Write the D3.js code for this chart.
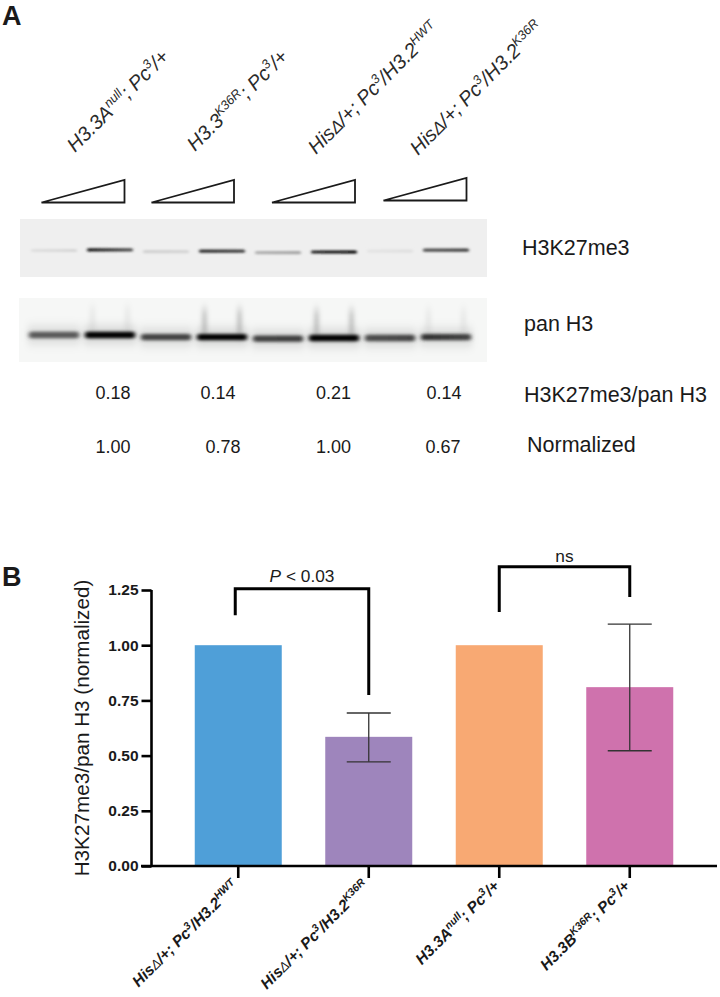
<!DOCTYPE html>
<html><head><meta charset="utf-8">
<script src="https://cdnjs.cloudflare.com/ajax/libs/d3/7.8.5/d3.min.js"></script>
<style>html,body{margin:0;padding:0;background:#fff}svg{display:block}text{font-family:"Liberation Sans",Arial,sans-serif;fill:#1a1a1a}</style>
</head><body><div id="chart"></div>
<script>
// Panel B
const categories = ["HisWT","HisK36R","H33Anull","H33BK36R"];
const values = [1.0, 0.585, 1.0, 0.81];
const errLow = [null, 0.472, null, 0.522];
const errHigh = [null, 0.693, null, 1.095];
const barColors = ["#4f9fd8","#9e85bc","#f8a973","#cf72ad"];
const yTicks = [0, 0.25, 0.5, 0.75, 1.0, 1.25];
const yTitle = "H3K27me3/pan H3 (normalized)";
const bracketPairs = [["HisWT","HisK36R"],["H33Anull","H33BK36R"]];
const bracketTop = [1.256, 1.355];
const bracketLeft = [1.136, 1.15];
const bracketRight = [0.774, 1.218];
const bracketLabels = ["P < 0.03","ns"];
const xLabels = [
 [["His","n"],["Δ","d"],["/+; Pc","n"],["3","s"],["/H3.2","n"],["HWT","s"]],
 [["His","n"],["Δ","d"],["/+; Pc","n"],["3","s"],["/H3.2","n"],["K36R","s"]],
 [["H3.3A","n"],["null","s"],["; Pc","n"],["3","s"],["/+","n"]],
 [["H3.3B","n"],["K36R","s"],["; Pc","n"],["3","s"],["/+","n"]]
];
// Panel A
const topLabels = [
 [["H3.3A","n"],["null","s"],["; Pc","n"],["3","s"],["/+","n"]],
 [["H3.3","n"],["K36R","s"],["; Pc","n"],["3","s"],["/+","n"]],
 [["His","n"],["Δ","d"],["/+; Pc","n"],["3","s"],["/H3.2","n"],["HWT","s"]],
 [["His","n"],["Δ","d"],["/+; Pc","n"],["3","s"],["/H3.2","n"],["K36R","s"]]
];
const ratios = ["0.18","0.14","0.21","0.14"];
const normalized = ["1.00","0.78","1.00","0.67"];
const rowLabels = ["H3K27me3","pan H3","H3K27me3/pan H3","Normalized"];
const lanes = [0,1,2,3,4,5,6,7];
// Band densities at left and right end of each lane
const k27Left  = [0.06,0.90,0.12,0.80,0.25,0.85,0.04,0.65];
const k27Right = [0.10,0.65,0.10,0.72,0.30,1.00,0.06,0.72];
const k27Migration = [0.5,0.3,0.9,0.7,1.2,1.0,0.7,0.4];
const panLeft  = [0.62,1.0,0.72,1.0,0.72,1.0,0.68,0.8];
const panRight = [0.62,1.0,0.72,1.0,0.75,1.0,0.72,0.72];
const panMigration = [0.0,0.0,0.7,0.7,1.2,1.0,1.0,0.7];
const panSmear = [0.0,0.15,0.0,0.5,0.0,0.5,0.0,0.15];

const W=720,H=997;
const svg=d3.select("#chart").append("svg").attr("width",W).attr("height",H);
const defs=svg.append("defs");
function blur(id,sd){defs.append("filter").attr("id",id).attr("filterUnits","userSpaceOnUse").attr("x",0).attr("y",200).attr("width",520).attr("height",180).append("feGaussianBlur").attr("stdDeviation",sd);}
blur("b1","1.8 1.1");blur("b2","2 1.7");blur("b3","3 6");blur("b4","2 5");

function rich(sel,runs,size,supScale){
  const t=sel.append("text").attr("font-size",size);
  let prev=false;
  runs.forEach(r=>{
    const isS=r[1]==="s";
    const s=t.append("tspan").text(r[0]);
    if(isS) s.attr("font-size",size*supScale).attr("dy",-size*0.38);
    else if(prev) s.attr("dy",size*0.38);
    if(r[1]==="d") s.attr("font-weight","normal").attr("font-size",size*0.85);
    prev=isS;
  });
  return t;
}

// ---------- Panel letters
svg.append("text").attr("x",2).attr("y",25).attr("font-size",27).attr("font-weight","bold").text("A");
svg.append("text").attr("x",2).attr("y",586).attr("font-size",27).attr("font-weight","bold").text("B");

// ---------- Panel A
const laneX=d3.scalePoint().domain(lanes).range([54,446]);
const topAnchor=[75,195,316,418], topY=[153,152,155,156];
topLabels.forEach((l,i)=>{
  const g=svg.append("g").attr("transform",`translate(${topAnchor[i]},${topY[i]}) rotate(-45)`);
  rich(g,l,20,0.64).attr("font-style","italic").style("fill","#2a2a2a");
});
const wedgeL=[41.5,151.5,272,383.5], wedgeR=[124.5,234,355,466.5], wedgeBase=[202.5,202.5,202.5,200.5], wedgeTop=[180,180,180,178];
wedgeL.forEach((x,i)=>{
  const p=d3.path();p.moveTo(x,wedgeBase[i]);p.lineTo(wedgeR[i],wedgeBase[i]);p.lineTo(wedgeR[i],wedgeTop[i]);p.closePath();
  svg.append("path").attr("d",p.toString()).attr("fill","#fff").attr("stroke","#1a1a1a").attr("stroke-width",1.8);
});
// blots
svg.append("rect").attr("x",20).attr("y",219).attr("width",467).attr("height",58).attr("fill","#efefef");
svg.append("rect").attr("x",19).attr("y",298).attr("width",468).attr("height",64).attr("fill","#f6f7f6");
const k27Y=d3.scaleLinear().domain([0,1]).range([249,252]);
const panY=d3.scaleLinear().domain([0,1]).range([335,338]);
const tone=d3.scaleLinear().domain([0,1]).range(["#ededed","#000000"]);
function laneGradient(id,l,r){
  const g=defs.append("linearGradient").attr("id",id);
  g.append("stop").attr("offset","0%").attr("stop-color",tone(l));
  g.append("stop").attr("offset","100%").attr("stop-color",tone(r));
}
lanes.forEach(i=>{laneGradient("k"+i,k27Left[i],k27Right[i]);laneGradient("p"+i,panLeft[i],panRight[i]);});
// haze and smear, pan H3
const haze=svg.append("g").attr("filter","url(#b3)");
haze.selectAll("rect").data(lanes).join("rect")
  .attr("x",d=>laneX(d)-26).attr("width",52).attr("y",d=>panY(panMigration[d])-7).attr("height",14)
  .attr("fill","#000").attr("opacity",d=>0.08+0.10*panRight[d]);
const smear=svg.append("g").attr("filter","url(#b4)");
lanes.filter(i=>panSmear[i]>0).forEach(i=>{
  [-20,15].forEach(dx=>{
    smear.append("rect").attr("x",laneX(i)+dx).attr("width",5).attr("y",panY(panMigration[i])-28).attr("height",26)
      .attr("fill","#000").attr("opacity",panSmear[i]*0.4);
  });
});
const blot1=svg.append("g").attr("filter","url(#b1)");
blot1.selectAll("rect").data(lanes).join("rect")
  .attr("x",d=>laneX(d)-23).attr("width",46).attr("y",d=>k27Y(k27Migration[d])-1.6).attr("height",3.2).attr("rx",1.5)
  .attr("fill",d=>`url(#k${d})`);
const blot2=svg.append("g").attr("filter","url(#b2)");
blot2.selectAll("rect").data(lanes).join("rect")
  .attr("x",d=>laneX(d)-25).attr("width",50).attr("y",d=>panY(panMigration[d])-3.2).attr("height",6.4).attr("rx",2.5)
  .attr("fill",d=>`url(#p${d})`);
const valX1=[113,218,333.5,444], valX2=[113,223,333.5,443];
ratios.forEach((v,i)=>svg.append("text").attr("x",valX1[i]).attr("y",399).attr("text-anchor","middle").attr("font-size",18).text(v));
normalized.forEach((v,i)=>svg.append("text").attr("x",valX2[i]).attr("y",453).attr("text-anchor","middle").attr("font-size",18).text(v));
const rowX=[522,524,524,527], rowY=[254.5,331,401.5,451.5];
rowLabels.forEach((d,i)=>svg.append("text").attr("x",rowX[i]).attr("y",rowY[i]).attr("font-size",21.5).text(d));

// ---------- Panel B
const x=d3.scaleBand().domain(categories).range([173,695]).paddingInner(1/3).paddingOuter(1/6);
const y=d3.scaleLinear().domain([0,1.25]).range([866,590]);
const cx=c=>x(c)+x.bandwidth()/2;
svg.append("g").selectAll("rect").data(categories).join("rect")
  .attr("x",d=>x(d)).attr("width",x.bandwidth())
  .attr("y",(d,i)=>y(values[i])).attr("height",(d,i)=>y(0)-y(values[i]))
  .attr("fill",(d,i)=>barColors[i]);
categories.forEach((c,i)=>{
  if(errLow[i]==null) return;
  const g=svg.append("g").attr("stroke","#333").attr("stroke-width",1.3);
  g.append("line").attr("x1",cx(c)).attr("x2",cx(c)).attr("y1",y(errLow[i])).attr("y2",y(errHigh[i]));
  [errLow[i],errHigh[i]].forEach(v=>g.append("line").attr("x1",cx(c)-22).attr("x2",cx(c)+22).attr("y1",y(v)).attr("y2",y(v)));
});
const yAxis=svg.append("g").attr("transform","translate(151.5,0)")
  .call(d3.axisLeft(y).tickValues(yTicks).tickFormat(d3.format(".2f")).tickSize(10).tickPadding(3));
yAxis.selectAll("path,line").attr("stroke","#000").attr("stroke-width",2.6);
yAxis.select("path").attr("d",`M0,${y(1.25)}V${y(0)}`);
yAxis.selectAll("text").attr("font-size",15.5).attr("font-weight","bold").style("fill","#1a1a1a").style("font-family",'"Liberation Sans"');
const xAxis=svg.append("g").attr("transform",`translate(0,${y(0)})`)
  .call(d3.axisBottom(x).tickSize(12).tickFormat(""));
xAxis.selectAll("path,line").attr("stroke","#000").attr("stroke-width",2.6);
xAxis.select("path").attr("d","M141,0H717");
categories.forEach((c,i)=>{
  const g=svg.append("g").attr("transform",`translate(${cx(c)+1},887) rotate(-45)`);
  rich(g,xLabels[i],15.6,0.68).attr("text-anchor","end").attr("font-weight","bold").attr("font-style","italic");
});
svg.append("text").attr("transform","translate(88.5,728) rotate(-90)").attr("text-anchor","middle").attr("font-size",20.7).text(yTitle);
const bracketShift=[-3,0], bracketGap=[7,5];
bracketPairs.forEach((p,i)=>{
  const a=cx(p[0])+bracketShift[i],b=cx(p[1]);
  const q=d3.path();q.moveTo(a,y(bracketLeft[i]));q.lineTo(a,y(bracketTop[i]));q.lineTo(b,y(bracketTop[i]));q.lineTo(b,y(bracketRight[i]));
  svg.append("path").attr("d",q.toString()).attr("fill","none").attr("stroke","#000").attr("stroke-width",3);
  const t=svg.append("text").attr("x",(a+b)/2).attr("y",y(bracketTop[i])-bracketGap[i]).attr("text-anchor","middle").attr("font-size",17.3);
  if(i===0){t.append("tspan").attr("font-style","italic").text("P");t.append("tspan").text(" < 0.03");}
  else t.text(bracketLabels[i]);
});
</script></body></html>
